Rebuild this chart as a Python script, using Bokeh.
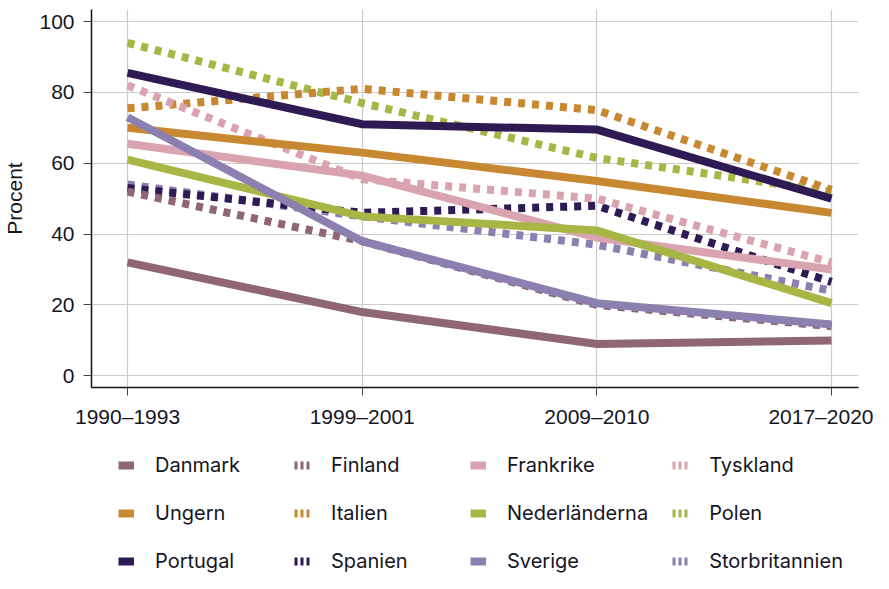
from bokeh.plotting import figure
from bokeh.models import Legend, LegendItem, FixedTicker, Range1d
from bokeh.layouts import column
from bokeh.embed import file_html
from bokeh.resources import INLINE

periods = ["1990–1993", "1999–2001", "2009–2010", "2017–2020"]

danmark = [32, 18, 9, 10]
finland = [52, 38, 20, 14]
frankrike = [65.5, 56.5, 39, 30]
tyskland = [82, 55.5, 50, 32]
ungern = [70, 63, 55, 46]
italien = [75.5, 81, 75, 52.5]
nederlanderna = [61, 45, 41, 20.5]
polen = [94, 77, 61.5, 52]
portugal = [85.5, 71, 69.5, 50]
spanien = [53, 46, 48, 26.5]
sverige = [73, 38, 20.5, 14.5]
storbritannien = [54, 45, 37, 24]

series = [
    ("Danmark", danmark, "#8f6675", "solid"),
    ("Finland", finland, "#8f6675", "dotted"),
    ("Frankrike", frankrike, "#d9a3b0", "solid"),
    ("Tyskland", tyskland, "#d9a3b0", "dotted"),
    ("Ungern", ungern, "#c88831", "solid"),
    ("Italien", italien, "#c88831", "dotted"),
    ("Nederländerna", nederlanderna, "#a7b644", "solid"),
    ("Polen", polen, "#a7b644", "dotted"),
    ("Portugal", portugal, "#2f1b54", "solid"),
    ("Spanien", spanien, "#2f1b54", "dotted"),
    ("Sverige", sverige, "#8b80b0", "solid"),
    ("Storbritannien", storbritannien, "#8b80b0", "dotted"),
]

FONT = "Liberation Sans"
TEXT = "#15151f"

p = figure(width=873, height=447, output_backend="svg", toolbar_location=None,
           x_range=Range1d(-0.1536, 3.115), y_range=Range1d(-3.3, 103.4),
           min_border_left=84, min_border_right=15, min_border_top=9,
           min_border_bottom=60)

p.outline_line_color = None
xs = list(range(len(periods)))

draw_order = ["Storbritannien", "Spanien", "Polen", "Italien", "Tyskland", "Finland",
              "Danmark", "Frankrike", "Ungern", "Nederländerna", "Sverige", "Portugal"]
lookup = {s[0]: s for s in series}
for name in draw_order:
    _, vals, col, style = lookup[name]
    p.line(xs, vals, line_color=col, line_width=8,
           line_dash="solid" if style == "solid" else "7 7",
           line_cap="butt", line_join="miter")

p.xaxis.ticker = FixedTicker(ticks=xs)
p.xaxis.major_label_overrides = {i: t for i, t in enumerate(periods)}
p.yaxis.ticker = FixedTicker(ticks=[0, 20, 40, 60, 80, 100])

for ax in (p.xaxis, p.yaxis):
    ax.axis_line_color = "#111111"
    ax.axis_line_width = 1.5
    ax.major_tick_line_color = "#444444"
    ax.major_tick_out = 8
    ax.major_tick_in = 0
    ax.minor_tick_line_color = None
    ax.major_label_text_font = FONT
    ax.major_label_text_font_size = "21px"
    ax.major_label_text_color = TEXT
    ax.major_label_standoff = 9

p.yaxis.axis_label = "Procent"
p.yaxis.axis_label_text_font = FONT
p.yaxis.axis_label_text_font_size = "21px"
p.yaxis.axis_label_text_font_style = "normal"
p.yaxis.axis_label_text_color = TEXT
p.yaxis.axis_label_standoff = 10

p.xgrid.grid_line_color = "#cccccc"
p.ygrid.grid_line_color = "#cccccc"
p.xgrid.grid_line_width = 1.2
p.ygrid.grid_line_width = 1.2

# legend figure
lg = figure(width=873, height=126, output_backend="svg", toolbar_location=None,
            x_range=Range1d(0, 1), y_range=Range1d(0, 1),
            min_border=0, min_border_left=0, min_border_right=0,
            min_border_top=0, min_border_bottom=0)
lg.axis.visible = False
lg.grid.visible = False
lg.outline_line_color = None

nan = float("nan")
items = []
for name, vals, col, style in series:
    r = lg.line([nan], [nan], line_color=col, line_width=8,
                line_dash="solid" if style == "solid" else "3 3", line_cap="butt")
    items.append(LegendItem(label=name, renderers=[r]))

legend = Legend(items=items, ncols=4, orientation="horizontal", location=(27, 0))
legend.border_line_color = None
legend.background_fill_alpha = 0
legend.label_text_font = "Inter"
legend.label_text_font_size = "20px"
legend.label_text_color = TEXT
legend.glyph_width = 16
legend.glyph_height = 20
legend.label_height = 20
legend.label_width = 115
legend.label_standoff = 21
legend.spacing = 24
legend.padding = 0
legend.margin = 0
lg.add_layout(legend, "center")

layout = column(p, lg, spacing=0)
open("out.html", "w").write(file_html(layout, INLINE))
